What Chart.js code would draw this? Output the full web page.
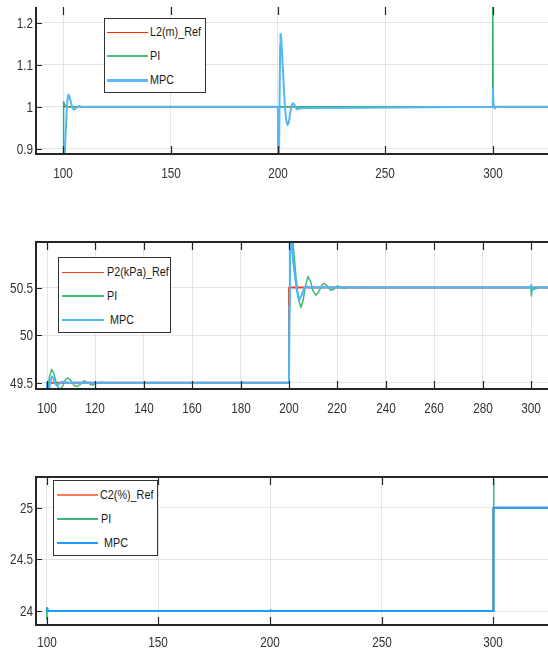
<!DOCTYPE html>
<html><head><meta charset="utf-8">
<script src="https://cdn.jsdelivr.net/npm/chart.js@4.4.1/dist/chart.umd.min.js"></script>
<style>
html,body{margin:0;padding:0;background:#fff;width:548px;height:651px;overflow:hidden;position:relative;}
canvas.pane{position:absolute;left:0;}
.leg{position:absolute;border:1px solid #333;background:#fff;box-sizing:border-box;}
.lgl{position:absolute;}
.lgt{position:absolute;font-family:"Liberation Sans",Arial,sans-serif;font-size:13.5px;color:#1a1a1a;line-height:14px;white-space:nowrap;transform:scaleX(0.8);transform-origin:left center;}
.tk{position:absolute;font-family:"Liberation Sans",Arial,sans-serif;font-size:14px;color:#333;line-height:16px;white-space:nowrap;}
.tkx{transform:translateX(-50%) scaleX(0.84);transform-origin:center center;}
.tky{transform:translateX(-100%) scaleX(0.84);transform-origin:right center;}
</style></head><body>
<canvas id="c1" class="pane" width="548" height="195" style="top:0px"></canvas>
<canvas id="c2" class="pane" width="548" height="195" style="top:230px"></canvas>
<canvas id="c3" class="pane" width="548" height="186" style="top:465px"></canvas>
<div id="labels"></div>
<div id="legends"></div>
<script>
// ---------- Panel 1: L2 (m) ----------
const l2XTicks = [100, 150, 200, 250, 300];
const l2YTicks = [0.9, 1, 1.1, 1.2];
const l2RefT = [100, 330];
const l2RefY = [1, 1];
const l2PiT = [100, 100.15, 100.6, 101.5, 199.98, 200.05, 200.3, 200.6, 299.98, 300.05, 300.25, 330];
const l2PiY = [0.85, 1.012, 1.006, 1.0, 1.0, 0.85, 0.98, 1.0, 1.0, 1.30, 1.0, 1.0];
const l2MpcT = [100, 100.35, 101.6, 102.0, 102.4, 102.9, 103.7, 104.4, 105.0, 105.6, 106.5, 107.5, 108.3, 109.5,
  199.98, 200.08, 200.3, 200.5, 201.05, 201.2, 201.5, 202.0, 202.6, 203.2, 203.8, 204.4, 205.0, 205.7, 206.4, 207.0,
  207.6, 208.3, 208.9, 209.8, 210.9, 212.5, 240, 270, 299.98, 300.12, 300.4, 300.8, 301.1, 301.7, 302.5, 303.5, 330];
const l2MpcY = [0.85, 0.85, 0.99, 1.018, 1.029, 1.024, 1.008, 0.996, 0.9936, 0.9955, 1.0, 1.002, 1.001, 1.0,
  1.0, 0.85, 0.86, 0.89, 1.15, 1.174, 1.165, 1.12, 1.06, 1.005, 0.97, 0.957, 0.962, 0.985, 1.003, 1.0086,
  1.006, 0.998, 0.9943, 0.9955, 0.997, 0.9975, 0.998, 0.9992, 1.0, 1.042, 1.01, 0.998, 0.9965, 0.999, 1.0008, 1.0, 1.0];

// ---------- Panel 2: P2 (kPa) ----------
const p2XTicks = [100, 120, 140, 160, 180, 200, 220, 240, 260, 280, 300];
const p2YTicks = [49.5, 50, 50.5];
const p2RefT = [100, 200, 200, 310];
const p2RefY = [49.5, 49.5, 50.5, 50.5];
const p2PiT = [100, 100.3, 101.0, 101.9, 102.8, 104.0, 105.4, 106.6, 107.8, 108.7, 109.8, 111.2, 112.3, 113.6,
  115.4, 117.0, 118.7, 120.5, 122.4, 125, 128, 199.98, 200.4, 201.0, 201.6, 202.9, 203.9, 204.9, 205.8, 206.8,
  207.8, 208.8, 210.0, 211.1, 212.2, 213.5, 214.5, 215.7, 217.2, 218.6, 220.0, 221.5, 223.0, 225.0, 227.5, 230.0,
  233.0, 236.0, 299.98, 300.05, 300.15, 300.5, 301.5, 310];
const p2PiY = [49.5, 49.4, 49.56, 49.64, 49.6, 49.48, 49.425, 49.47, 49.54, 49.55, 49.525, 49.47, 49.46, 49.48,
  49.52, 49.495, 49.475, 49.495, 49.505, 49.497, 49.5, 49.5, 50.9, 51.1, 50.98, 50.6, 50.38, 50.29, 50.36, 50.52,
  50.615, 50.57, 50.46, 50.42, 50.45, 50.52, 50.545, 50.52, 50.47, 50.485, 50.517, 50.505, 50.49, 50.505, 50.497, 50.503,
  50.498, 50.5, 50.5, 50.53, 50.41, 50.49, 50.5, 50.5];
const p2MpcT = [100, 100.1, 100.7, 101.3, 102.0, 102.6, 103.4, 104.1, 105.0, 106.2, 107.5, 109.0, 111.0,
  199.98, 200.15, 200.35, 200.6, 200.9, 201.5, 202.2, 203.2, 204.2, 205.2, 206.4, 207.5, 208.8, 210.0, 215.0,
  299.98, 300.1, 300.4, 301.2, 302.0, 303.0, 310];
const p2MpcY = [49.5, 49.38, 49.38, 49.5, 49.565, 49.55, 49.49, 49.47, 49.49, 49.51, 49.505, 49.497, 49.5,
  49.5, 50.3, 51.0, 51.08, 51.0, 50.82, 50.67, 50.47, 50.37, 50.42, 50.5, 50.51, 50.497, 50.5, 50.5,
  50.5, 50.525, 50.5, 50.48, 50.49, 50.5, 50.5];

// ---------- Panel 3: C2 (%) ----------
const c2XTicks = [100, 150, 200, 250, 300];
const c2YTicks = [24, 24.5, 25];
const c2RefT = [100, 300, 300, 330];
const c2RefY = [24, 24, 25, 25];
const c2PiT = [100, 100.05, 100.2, 100.5, 199.9, 200.3, 201.2, 299.98, 300.1, 300.3, 330];
const c2PiY = [24, 23.92, 24.02, 24.0, 24.0, 24.012, 24.0, 24.0, 25.27, 25.0, 25.0];
const c2MpcT = [100, 100.2, 100.6, 299.98, 300.05, 330];
const c2MpcY = [24, 24.03, 24.0, 24.0, 25.0, 25.0];

function pts(t, y) { return t.map((v, i) => ({ x: v, y: y[i] })); }

const frame = {
  id: 'frame',
  afterDraw(chart, args, o) {
    const { ctx, chartArea: a, scales: { x, y } } = chart;
    ctx.save();
    ctx.strokeStyle = '#262626';
    ctx.lineWidth = 1.2;
    ctx.beginPath();
    x.ticks.forEach(t => {
      const px = Math.round(x.getPixelForValue(t.value)) + 0.5;
      ctx.moveTo(px, a.bottom); ctx.lineTo(px, a.bottom - 8);
      ctx.moveTo(px, a.top); ctx.lineTo(px, a.top + 8);
    });
    y.ticks.forEach(t => {
      const py = Math.round(y.getPixelForValue(t.value)) + 0.5;
      ctx.moveTo(a.left, py); ctx.lineTo(a.left + 6, py);
    });
    ctx.stroke();
    ctx.lineWidth = 2;
    ctx.beginPath();
    ctx.moveTo(a.left, a.top); ctx.lineTo(a.left, a.bottom);
    ctx.moveTo(a.left - 1, a.bottom); ctx.lineTo(a.right, a.bottom);
    if (o.topLine) { ctx.moveTo(a.left - 1, a.top); ctx.lineTo(a.right, a.top); }
    ctx.stroke();
    ctx.restore();
  }
};

const labelHost = document.getElementById('labels');
function addTickLabels(chart, p) {
  const a = chart.chartArea;
  const { x, y } = chart.scales;
  x.ticks.forEach(t => {
    const d = document.createElement('div');
    d.className = 'tk tkx';
    d.style.left = x.getPixelForValue(t.value) + 'px';
    d.style.top = (p.canvasTop + a.bottom + p.xLabelOff - 8) + 'px';
    d.textContent = String(t.value);
    labelHost.appendChild(d);
  });
  y.ticks.forEach(t => {
    const d = document.createElement('div');
    d.className = 'tk tky';
    d.style.left = (a.left - 3) + 'px';
    d.style.top = (p.canvasTop + y.getPixelForValue(t.value) - 8) + 'px';
    d.textContent = String(t.value);
    labelHost.appendChild(d);
  });
}

function makePanel(id, p) {
  const ds = [
    { label: p.names[0], data: pts(p.refT, p.refY), borderColor: p.colors[0], borderWidth: p.widths[0], order: 2 },
    { label: p.names[1], data: pts(p.piT, p.piY), borderColor: p.colors[1], borderWidth: p.widths[1], order: 1 },
    { label: p.names[2], data: pts(p.mpcT, p.mpcY), borderColor: p.colors[2], borderWidth: p.widths[2], order: 0 }
  ];
  ds.forEach(d => { d.pointRadius = 0; d.tension = 0; d.fill = false; d.borderJoinStyle = 'round'; });
  const chart = new Chart(document.getElementById(id), {
    type: 'line',
    data: { datasets: ds },
    options: {
      responsive: false, animation: false, devicePixelRatio: 1,
      layout: { padding: { top: p.padTop, left: 0, right: 0, bottom: 0 } },
      plugins: { legend: { display: false }, tooltip: { enabled: false }, frame: { topLine: p.topLine } },
      scales: {
        x: {
          type: 'linear', min: p.xMin, max: p.xMax,
          afterBuildTicks: s => { s.ticks = p.xTicks.map(v => ({ value: v })); },
          afterFit: s => { s.height = p.xAxisH; },
          ticks: { display: false },
          grid: { color: '#e4e4e4', lineWidth: 1, drawTicks: false },
          border: { display: false }
        },
        y: {
          type: 'linear', min: p.yMin, max: p.yMax,
          afterBuildTicks: s => { s.ticks = p.yTicks.map(v => ({ value: v })); },
          afterFit: s => { s.width = 36; },
          ticks: { display: false },
          grid: { color: '#e4e4e4', lineWidth: 1, drawTicks: false },
          border: { display: false }
        }
      }
    },
    plugins: [frame]
  });
  addTickLabels(chart, p);
}

makePanel('c1', {
  names: ['L2(m)_Ref', 'PI', 'MPC'], colors: ['#ff2a00', '#2fb36a', '#55b8f5'], widths: [1.5, 1.5, 2],
  refT: l2RefT, refY: l2RefY, piT: l2PiT, piY: l2PiY, mpcT: l2MpcT, mpcY: l2MpcY,
  xMin: 87.3, xMax: 325.8, yMin: 0.888, yMax: 1.2373, xTicks: l2XTicks, yTicks: l2YTicks,
  padTop: 7, xAxisH: 41, topLine: false, canvasTop: 0, xLabelOff: 18.7
});
makePanel('c2', {
  names: ['P2(kPa)_Ref', 'PI', 'MPC'], colors: ['#ff3b1a', '#3dbb75', '#4db5ff'], widths: [2, 1.5, 2],
  refT: p2RefT, refY: p2RefY, piT: p2PiT, piY: p2PiY, mpcT: p2MpcT, mpcY: p2MpcY,
  xMin: 95.45, xMax: 307.0, yMin: 49.434, yMax: 50.978, xTicks: p2XTicks, yTicks: p2YTicks,
  padTop: 12, xAxisH: 36, topLine: true, canvasTop: 230, xLabelOff: 19.3
});
makePanel('c3', {
  names: ['C2(%)_Ref', 'PI', 'MPC'], colors: ['#ff7b5c', '#3cb878', '#1a9eff'], widths: [2, 1.5, 2],
  refT: c2RefT, refY: c2RefY, piT: c2PiT, piY: c2PiY, mpcT: c2MpcT, mpcY: c2MpcY,
  xMin: 95.2, xMax: 324.5, yMin: 23.865, yMax: 25.297, xTicks: c2XTicks, yTicks: c2YTicks,
  padTop: 12, xAxisH: 26, topLine: true, canvasTop: 465, xLabelOff: 16.7
});

// ---------- Legends (HTML text) ----------
const legends = [
  { box: [103.5, 17.7, 102.5, 75.6], rows: [32.3, 56, 80], line: [107.3, 148.3], textX: [150, 150, 150],
    labels: ['L2(m)_Ref', 'PI', 'MPC'], colors: ['#ff2a00', '#4cbc80', '#5bbcf7'], widths: [1.5, 2.5, 3] },
  { box: [58.4, 256.7, 113, 76.6], rows: [272.3, 296, 320], line: [62, 104], textX: [106.6, 106.6, 110],
    labels: ['P2(kPa)_Ref', 'PI', 'MPC'], colors: ['#ff3b1a', '#3dbb75', '#4db8ff'], widths: [1.5, 2, 2.5] },
  { box: [53, 480, 105.3, 75.7], rows: [495, 519, 543], line: [57, 98], textX: [100, 101, 104],
    labels: ['C2(%)_Ref', 'PI', 'MPC'], colors: ['#ff7b5c', '#3cb878', '#1a9eff'], widths: [2.5, 2, 2] }
];
const host = document.getElementById('legends');
legends.forEach(L => {
  const b = document.createElement('div');
  b.className = 'leg';
  b.style.left = L.box[0] + 'px'; b.style.top = L.box[1] + 'px';
  b.style.width = L.box[2] + 'px'; b.style.height = L.box[3] + 'px';
  host.appendChild(b);
  L.rows.forEach((ry, i) => {
    const ln = document.createElement('div');
    ln.className = 'lgl';
    ln.style.left = L.line[0] + 'px'; ln.style.width = (L.line[1] - L.line[0]) + 'px';
    ln.style.top = (ry - L.widths[i] / 2) + 'px'; ln.style.height = L.widths[i] + 'px';
    ln.style.background = L.colors[i];
    host.appendChild(ln);
    const tx = document.createElement('div');
    tx.className = 'lgt';
    tx.style.left = L.textX[i] + 'px'; tx.style.top = (ry - 7) + 'px';
    tx.textContent = L.labels[i];
    host.appendChild(tx);
  });
});
</script>
</body></html>
